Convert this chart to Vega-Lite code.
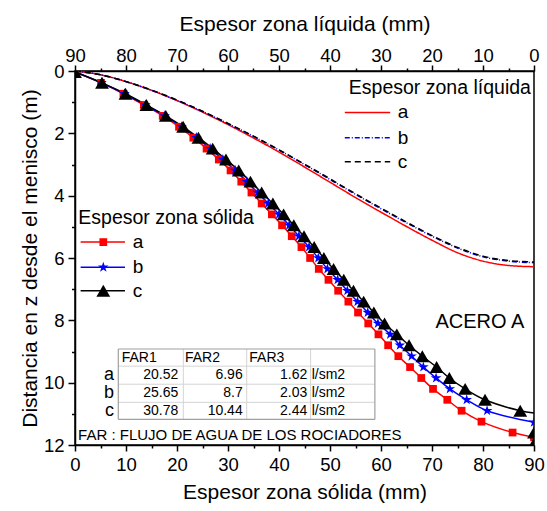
{
  "$schema": "https://vega.github.io/schema/vega-lite/v6.json",
  "width": 459,
  "height": 374,
  "autosize": {"type": "none"},
  "padding": {"left": 75, "top": 71, "right": 13, "bottom": 66},
  "background": "white",
  "config": {
    "font": "Liberation Sans",
    "view": {"stroke": "black", "strokeWidth": 1.5},
    "axis": {
      "domainColor": "black", "domainWidth": 1.5,
      "tickColor": "black", "tickWidth": 1.5,
      "labelColor": "black", "titleColor": "black",
      "labelFont": "Liberation Sans", "titleFont": "Liberation Sans",
      "labelFontSize": 18.5, "titleFontSize": 21, "titleFontWeight": "normal",
      "grid": false, "labelFlush": false, "labelOverlap": false, "labelBound": false
    },
    "text": {"font": "Liberation Sans", "color": "black"}
  },
  "datasets": {
    "solido": [
      {"serie":"a","x":0,"z":0.03},{"serie":"a","x":5.1,"z":0.38},{"serie":"a","x":9.5,"z":0.73},{"serie":"a","x":13.5,"z":1.09},{"serie":"a","x":17.2,"z":1.44},{"serie":"a","x":20.4,"z":1.79},{"serie":"a","x":23.2,"z":2.14},{"serie":"a","x":25.8,"z":2.49},{"serie":"a","x":28.2,"z":2.84},{"serie":"a","x":30.5,"z":3.19},{"serie":"a","x":32.6,"z":3.55},{"serie":"a","x":34.6,"z":3.90},{"serie":"a","x":36.6,"z":4.25},{"serie":"a","x":38.6,"z":4.60},{"serie":"a","x":40.6,"z":4.95},{"serie":"a","x":42.5,"z":5.30},{"serie":"a","x":44.4,"z":5.65},{"serie":"a","x":46.1,"z":6.00},{"serie":"a","x":47.8,"z":6.35},{"serie":"a","x":49.7,"z":6.70},{"serie":"a","x":51.6,"z":7.05},{"serie":"a","x":53.6,"z":7.40},{"serie":"a","x":55.5,"z":7.75},{"serie":"a","x":57.5,"z":8.10},{"serie":"a","x":59.5,"z":8.45},{"serie":"a","x":61.4,"z":8.80},{"serie":"a","x":63.4,"z":9.15},{"serie":"a","x":65.7,"z":9.50},{"serie":"a","x":67.9,"z":9.85},{"serie":"a","x":70.2,"z":10.20},{"serie":"a","x":73.0,"z":10.55},{"serie":"a","x":75.8,"z":10.90},{"serie":"a","x":79.7,"z":11.25},{"serie":"a","x":85.8,"z":11.60},{"serie":"a","x":90,"z":11.75},
      {"serie":"b","x":0,"z":0.03},{"serie":"b","x":5.2,"z":0.38},{"serie":"b","x":9.7,"z":0.73},{"serie":"b","x":13.8,"z":1.09},{"serie":"b","x":17.6,"z":1.44},{"serie":"b","x":20.9,"z":1.79},{"serie":"b","x":23.8,"z":2.14},{"serie":"b","x":26.5,"z":2.49},{"serie":"b","x":29.0,"z":2.84},{"serie":"b","x":31.4,"z":3.19},{"serie":"b","x":33.7,"z":3.55},{"serie":"b","x":35.8,"z":3.90},{"serie":"b","x":37.9,"z":4.25},{"serie":"b","x":40.0,"z":4.60},{"serie":"b","x":42.0,"z":4.95},{"serie":"b","x":43.9,"z":5.30},{"serie":"b","x":45.9,"z":5.65},{"serie":"b","x":47.7,"z":6.00},{"serie":"b","x":49.5,"z":6.35},{"serie":"b","x":51.5,"z":6.70},{"serie":"b","x":53.4,"z":7.05},{"serie":"b","x":55.4,"z":7.40},{"serie":"b","x":57.4,"z":7.75},{"serie":"b","x":59.4,"z":8.10},{"serie":"b","x":61.8,"z":8.45},{"serie":"b","x":63.7,"z":8.80},{"serie":"b","x":66.0,"z":9.15},{"serie":"b","x":68.3,"z":9.50},{"serie":"b","x":70.8,"z":9.85},{"serie":"b","x":73.5,"z":10.20},{"serie":"b","x":76.8,"z":10.55},{"serie":"b","x":80.8,"z":10.90},{"serie":"b","x":90,"z":11.27},
      {"serie":"c","x":0,"z":0.03},{"serie":"c","x":5.3,"z":0.38},{"serie":"c","x":9.9,"z":0.73},{"serie":"c","x":14.0,"z":1.09},{"serie":"c","x":17.8,"z":1.44},{"serie":"c","x":21.2,"z":1.79},{"serie":"c","x":24.2,"z":2.14},{"serie":"c","x":27.0,"z":2.49},{"serie":"c","x":29.6,"z":2.84},{"serie":"c","x":32.1,"z":3.19},{"serie":"c","x":34.4,"z":3.55},{"serie":"c","x":36.6,"z":3.90},{"serie":"c","x":38.8,"z":4.25},{"serie":"c","x":40.9,"z":4.60},{"serie":"c","x":42.9,"z":4.95},{"serie":"c","x":44.9,"z":5.30},{"serie":"c","x":46.9,"z":5.65},{"serie":"c","x":48.8,"z":6.00},{"serie":"c","x":50.7,"z":6.35},{"serie":"c","x":52.7,"z":6.70},{"serie":"c","x":54.6,"z":7.05},{"serie":"c","x":56.6,"z":7.40},{"serie":"c","x":58.6,"z":7.75},{"serie":"c","x":60.7,"z":8.10},{"serie":"c","x":63.1,"z":8.45},{"serie":"c","x":65.5,"z":8.80},{"serie":"c","x":68.1,"z":9.15},{"serie":"c","x":70.9,"z":9.50},{"serie":"c","x":73.4,"z":9.85},{"serie":"c","x":76.5,"z":10.20},{"serie":"c","x":80.4,"z":10.55},{"serie":"c","x":87.3,"z":10.90},{"serie":"c","x":90,"z":10.97}
    ],
    "marcas_borde": [
      {"serie":"c","x":90,"z":11.60},{"serie":"c","x":90,"z":11.95}
    ],
    "liquido": [
      {"serie":"a","L":90,"z":0},{"serie":"a","L":85,"z":0.12},{"serie":"a","L":80,"z":0.34},{"serie":"a","L":75,"z":0.62},{"serie":"a","L":70,"z":0.95},{"serie":"a","L":65,"z":1.32},{"serie":"a","L":60,"z":1.72},{"serie":"a","L":55,"z":2.15},{"serie":"a","L":50,"z":2.6},{"serie":"a","L":45,"z":3.08},{"serie":"a","L":40,"z":3.57},{"serie":"a","L":35,"z":4.06},{"serie":"a","L":30,"z":4.53},{"serie":"a","L":25,"z":4.99},{"serie":"a","L":20,"z":5.43},{"serie":"a","L":15,"z":5.83},{"serie":"a","L":10,"z":6.1},{"serie":"a","L":5,"z":6.24},{"serie":"a","L":0,"z":6.28},
      {"serie":"b","L":90,"z":0},{"serie":"b","L":85,"z":0.12},{"serie":"b","L":80,"z":0.34},{"serie":"b","L":75,"z":0.62},{"serie":"b","L":70,"z":0.94},{"serie":"b","L":65,"z":1.3},{"serie":"b","L":60,"z":1.69},{"serie":"b","L":55,"z":2.1},{"serie":"b","L":50,"z":2.54},{"serie":"b","L":45,"z":3.0},{"serie":"b","L":40,"z":3.48},{"serie":"b","L":35,"z":3.96},{"serie":"b","L":30,"z":4.42},{"serie":"b","L":25,"z":4.87},{"serie":"b","L":20,"z":5.3},{"serie":"b","L":15,"z":5.68},{"serie":"b","L":10,"z":5.96},{"serie":"b","L":5,"z":6.1},{"serie":"b","L":0,"z":6.15},
      {"serie":"c","L":90,"z":0},{"serie":"c","L":85,"z":0.12},{"serie":"c","L":80,"z":0.34},{"serie":"c","L":75,"z":0.61},{"serie":"c","L":70,"z":0.93},{"serie":"c","L":65,"z":1.29},{"serie":"c","L":60,"z":1.68},{"serie":"c","L":55,"z":2.09},{"serie":"c","L":50,"z":2.53},{"serie":"c","L":45,"z":2.99},{"serie":"c","L":40,"z":3.46},{"serie":"c","L":35,"z":3.94},{"serie":"c","L":30,"z":4.4},{"serie":"c","L":25,"z":4.85},{"serie":"c","L":20,"z":5.28},{"serie":"c","L":15,"z":5.66},{"serie":"c","L":10,"z":5.94},{"serie":"c","L":5,"z":6.08},{"serie":"c","L":0,"z":6.13}
    ],
    "leyenda_sol": [
      {"serie":"a","x1":1.1,"x2":9.8,"xm":5.55,"xt":11.3,"z":5.49},
      {"serie":"b","x1":1.1,"x2":9.8,"xm":5.55,"xt":11.3,"z":6.3},
      {"serie":"c","x1":1.1,"x2":9.8,"xm":5.55,"xt":11.3,"z":7.05}
    ],
    "leyenda_liq": [
      {"serie":"a","x1":52.9,"x2":61.8,"xt":63.3,"z":1.33},
      {"serie":"b","x1":52.9,"x2":61.8,"xt":63.3,"z":2.14},
      {"serie":"c","x1":52.9,"x2":61.8,"xt":63.3,"z":2.91}
    ],
    "tabla_borde": [
      {"x1":8.49,"x2":58.8,"z1":8.92,"z2":8.92},
      {"x1":8.49,"x2":58.8,"z1":11.18,"z2":11.18},
      {"x1":8.49,"x2":8.49,"z1":8.92,"z2":11.18},
      {"x1":58.8,"x2":58.8,"z1":8.92,"z2":11.18}
    ],
    "tabla_interior": [
      {"x1":8.49,"x2":58.8,"z1":9.47,"z2":9.47},
      {"x1":8.49,"x2":58.8,"z1":10.05,"z2":10.05},
      {"x1":8.49,"x2":58.8,"z1":10.63,"z2":10.63},
      {"x1":21.24,"x2":21.24,"z1":8.92,"z2":11.18},
      {"x1":33.67,"x2":33.67,"z1":8.92,"z2":11.18},
      {"x1":46.2,"x2":46.2,"z1":8.92,"z2":11.18}
    ],
    "tabla_izq": [
      {"texto":"FAR1","x":9.16,"z":9.2},
      {"texto":"FAR2","x":21.57,"z":9.2},
      {"texto":"FAR3","x":34.18,"z":9.2},
      {"texto":"l/sm2","x":46.41,"z":9.76},
      {"texto":"l/sm2","x":46.41,"z":10.34},
      {"texto":"l/sm2","x":46.41,"z":10.9}
    ],
    "tabla_der": [
      {"texto":"20.52","x":20.25,"z":9.76},{"texto":"6.96","x":32.88,"z":9.76},{"texto":"1.62","x":45.55,"z":9.76},
      {"texto":"25.65","x":20.25,"z":10.34},{"texto":"8.7","x":32.88,"z":10.34},{"texto":"2.03","x":45.55,"z":10.34},
      {"texto":"30.78","x":20.25,"z":10.9},{"texto":"10.44","x":32.88,"z":10.9},{"texto":"2.44","x":45.55,"z":10.9}
    ],
    "tabla_filas": [
      {"texto":"a","x":7.65,"z":9.76},
      {"texto":"b","x":7.65,"z":10.34},
      {"texto":"c","x":7.65,"z":10.9}
    ]
  },
  "layer": [
    {
      "data": {"name": "liquido"},
      "mark": {"type": "line", "interpolate": "monotone", "strokeWidth": 1.5, "clip": true},
      "encoding": {
        "x": {"field": "L", "type": "quantitative",
          "scale": {"domain": [0, 90], "reverse": true, "nice": false, "zero": false},
          "axis": {"orient": "top", "title": "Espesor zona líquida (mm)",
            "values": [0,5,10,15,20,25,30,35,40,45,50,55,60,65,70,75,80,85,90],
            "labelExpr": "datum.value % 10 === 0 ? datum.label : ''",
            "tickSize": {"condition": {"test": "datum.value % 10 !== 0", "value": 3}, "value": 6},
            "labelPadding": 0, "titlePadding": 12}},
        "y": {"field": "z", "type": "quantitative",
          "scale": {"domain": [0, 12], "reverse": true, "nice": false, "zero": false},
          "axis": {"orient": "left", "title": "Distancia en z desde el menisco (m)",
            "values": [0,2,4,6,8,10,12],
            "tickSize": 7, "labelPadding": 4, "titlePadding": 3}},
        "color": {"field": "serie", "type": "nominal", "scale": {"domain": ["a","b","c"], "range": ["#ff0000","#0000ff","#000000"]}, "legend": null},
        "strokeDash": {"field": "serie", "type": "nominal", "scale": {"domain": ["a","b","c"], "range": [[1,0],[5,2,1,2],[6,4]]}, "legend": null},
        "order": {"field": "L", "type": "quantitative", "sort": "descending"}
      }
    },
    {
      "data": {"name": "solido"},
      "mark": {"type": "line", "interpolate": "catmull-rom", "strokeWidth": 1.5, "clip": true},
      "encoding": {
        "x": {"field": "x", "type": "quantitative",
          "scale": {"domain": [0, 90], "nice": false, "zero": false},
          "axis": {"orient": "bottom", "title": "Espesor zona sólida (mm)",
            "values": [0,5,10,15,20,25,30,35,40,45,50,55,60,65,70,75,80,85,90],
            "labelExpr": "datum.value % 10 === 0 ? datum.label : ''",
            "tickSize": {"condition": {"test": "datum.value % 10 !== 0", "value": 3}, "value": 6},
            "labelPadding": 4, "titlePadding": 8}},
        "y": {"field": "z", "type": "quantitative",
          "axis": {"orient": "left", "title": null, "labels": false, "domain": false,
            "values": [1,3,5,7,9,11], "tickSize": 3.5}},
        "color": {"field": "serie", "type": "nominal", "legend": null},
        "order": {"field": "z", "type": "quantitative"}
      }
    },
    {
      "data": {"name": "solido"},
      "transform": [{"filter": "datum.x < 89.9 || datum.serie != 'c'"}],
      "mark": {"type": "point", "filled": true, "opacity": 1, "clip": true},
      "encoding": {
        "x": {"field": "x", "type": "quantitative", "scale": {"domain": [0, 90], "nice": false, "zero": false}, "axis": null},
        "y": {"field": "z", "type": "quantitative", "axis": null},
        "color": {"field": "serie", "type": "nominal", "legend": null},
        "shape": {"field": "serie", "type": "nominal", "scale": {"domain": ["a","b","c"], "range": ["square", "M0,-1L0.2245,-0.309L0.951,-0.309L0.363,0.118L0.588,0.809L0,0.382L-0.588,0.809L-0.363,0.118L-0.951,-0.309L-0.2245,-0.309Z", "triangle-up"]}, "legend": null},
        "size": {"field": "serie", "type": "nominal", "scale": {"domain": ["a","b","c"], "range": [60, 190, 60]}, "legend": null}
      }
    },
    {
      "data": {"name": "marcas_borde"},
      "mark": {"type": "point", "filled": true, "opacity": 1, "clip": true},
      "encoding": {
        "x": {"field": "x", "type": "quantitative", "scale": {"domain": [0, 90], "nice": false, "zero": false}, "axis": null},
        "y": {"field": "z", "type": "quantitative", "axis": null},
        "color": {"field": "serie", "type": "nominal", "legend": null},
        "shape": {"field": "serie", "type": "nominal", "legend": null},
        "size": {"field": "serie", "type": "nominal", "legend": null}
      }
    },
    {
      "data": {"name": "leyenda_sol"},
      "mark": {"type": "rule", "strokeWidth": 1.5},
      "encoding": {
        "x": {"field": "x1", "type": "quantitative", "scale": {"domain": [0, 90], "nice": false, "zero": false}, "axis": null},
        "x2": {"field": "x2"},
        "y": {"field": "z", "type": "quantitative", "axis": null},
        "color": {"field": "serie", "type": "nominal", "legend": null}
      }
    },
    {
      "data": {"name": "leyenda_sol"},
      "mark": {"type": "point", "filled": true, "opacity": 1},
      "encoding": {
        "x": {"field": "xm", "type": "quantitative", "scale": {"domain": [0, 90], "nice": false, "zero": false}, "axis": null},
        "y": {"field": "z", "type": "quantitative", "axis": null},
        "color": {"field": "serie", "type": "nominal", "legend": null},
        "shape": {"field": "serie", "type": "nominal", "legend": null},
        "size": {"field": "serie", "type": "nominal", "legend": null}
      }
    },
    {
      "data": {"name": "leyenda_sol"},
      "mark": {"type": "text", "align": "left", "baseline": "middle", "fontSize": 19},
      "encoding": {
        "x": {"field": "xt", "type": "quantitative", "scale": {"domain": [0, 90], "nice": false, "zero": false}, "axis": null},
        "y": {"field": "z", "type": "quantitative", "axis": null},
        "text": {"field": "serie"}
      }
    },
    {
      "data": {"name": "leyenda_liq"},
      "mark": {"type": "rule", "strokeWidth": 1.5},
      "encoding": {
        "x": {"field": "x1", "type": "quantitative", "scale": {"domain": [0, 90], "nice": false, "zero": false}, "axis": null},
        "x2": {"field": "x2"},
        "y": {"field": "z", "type": "quantitative", "axis": null},
        "color": {"field": "serie", "type": "nominal", "legend": null},
        "strokeDash": {"field": "serie", "type": "nominal", "legend": null}
      }
    },
    {
      "data": {"name": "leyenda_liq"},
      "mark": {"type": "text", "align": "left", "baseline": "middle", "fontSize": 19},
      "encoding": {
        "x": {"field": "xt", "type": "quantitative", "scale": {"domain": [0, 90], "nice": false, "zero": false}, "axis": null},
        "y": {"field": "z", "type": "quantitative", "axis": null},
        "text": {"field": "serie"}
      }
    },
    {
      "data": {"values": [{"texto": "Espesor zona sólida", "x": 0.65, "z": 4.72}]},
      "mark": {"type": "text", "align": "left", "baseline": "middle", "fontSize": 19.5},
      "encoding": {
        "x": {"field": "x", "type": "quantitative", "scale": {"domain": [0, 90], "nice": false, "zero": false}, "axis": null},
        "y": {"field": "z", "type": "quantitative", "axis": null},
        "text": {"field": "texto"}
      }
    },
    {
      "data": {"values": [{"texto": "Espesor zona líquida", "x": 89.4, "z": 0.53}]},
      "mark": {"type": "text", "align": "right", "baseline": "middle", "fontSize": 19.5},
      "encoding": {
        "x": {"field": "x", "type": "quantitative", "scale": {"domain": [0, 90], "nice": false, "zero": false}, "axis": null},
        "y": {"field": "z", "type": "quantitative", "axis": null},
        "text": {"field": "texto"}
      }
    },
    {
      "data": {"values": [{"texto": "ACERO A", "x": 79.4, "z": 8.04}]},
      "mark": {"type": "text", "align": "center", "baseline": "middle", "fontSize": 20},
      "encoding": {
        "x": {"field": "x", "type": "quantitative", "scale": {"domain": [0, 90], "nice": false, "zero": false}, "axis": null},
        "y": {"field": "z", "type": "quantitative", "axis": null},
        "text": {"field": "texto"}
      }
    },
    {
      "data": {"values": [{"texto": "FAR : FLUJO DE AGUA DE LOS ROCIADORES", "x": 0.6, "z": 11.69}]},
      "mark": {"type": "text", "align": "left", "baseline": "middle", "fontSize": 15},
      "encoding": {
        "x": {"field": "x", "type": "quantitative", "scale": {"domain": [0, 90], "nice": false, "zero": false}, "axis": null},
        "y": {"field": "z", "type": "quantitative", "axis": null},
        "text": {"field": "texto"}
      }
    },
    {
      "data": {"name": "tabla_interior"},
      "mark": {"type": "rule", "strokeWidth": 1, "color": "#d4d4d4"},
      "encoding": {
        "x": {"field": "x1", "type": "quantitative", "scale": {"domain": [0, 90], "nice": false, "zero": false}, "axis": null},
        "x2": {"field": "x2"},
        "y": {"field": "z1", "type": "quantitative", "axis": null},
        "y2": {"field": "z2"}
      }
    },
    {
      "data": {"name": "tabla_borde"},
      "mark": {"type": "rule", "strokeWidth": 1.2, "color": "#a0a0a0"},
      "encoding": {
        "x": {"field": "x1", "type": "quantitative", "scale": {"domain": [0, 90], "nice": false, "zero": false}, "axis": null},
        "x2": {"field": "x2"},
        "y": {"field": "z1", "type": "quantitative", "axis": null},
        "y2": {"field": "z2"}
      }
    },
    {
      "data": {"name": "tabla_izq"},
      "mark": {"type": "text", "align": "left", "baseline": "middle", "fontSize": 14},
      "encoding": {
        "x": {"field": "x", "type": "quantitative", "scale": {"domain": [0, 90], "nice": false, "zero": false}, "axis": null},
        "y": {"field": "z", "type": "quantitative", "axis": null},
        "text": {"field": "texto"}
      }
    },
    {
      "data": {"name": "tabla_der"},
      "mark": {"type": "text", "align": "right", "baseline": "middle", "fontSize": 14},
      "encoding": {
        "x": {"field": "x", "type": "quantitative", "scale": {"domain": [0, 90], "nice": false, "zero": false}, "axis": null},
        "y": {"field": "z", "type": "quantitative", "axis": null},
        "text": {"field": "texto"}
      }
    },
    {
      "data": {"name": "tabla_filas"},
      "mark": {"type": "text", "align": "right", "baseline": "middle", "fontSize": 18},
      "encoding": {
        "x": {"field": "x", "type": "quantitative", "scale": {"domain": [0, 90], "nice": false, "zero": false}, "axis": null},
        "y": {"field": "z", "type": "quantitative", "axis": null},
        "text": {"field": "texto"}
      }
    }
  ],
  "resolve": {"scale": {"x": "independent"}, "axis": {"y": "independent"}}
}
